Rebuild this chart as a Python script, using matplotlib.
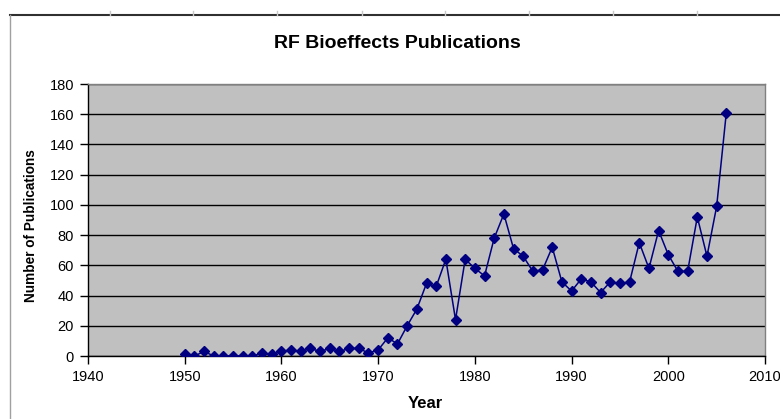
import matplotlib
matplotlib.use("Agg")
import matplotlib.pyplot as plt
from matplotlib.lines import Line2D

years = list(range(1950, 2007))
publications = [1, 0, 3, 0, 0, 0, 0, 0, 2, 1,
                3, 4, 3, 5, 3, 5, 3, 5, 5, 2,
                4, 12, 8, 20, 31, 48, 46, 64, 24, 64,
                58, 53, 78, 94, 71, 66, 56, 57, 72, 49,
                43, 51, 49, 42, 49, 48, 49, 75, 58, 83,
                67, 56, 56, 92, 66, 99, 161]
x_ticks = [1940, 1950, 1960, 1970, 1980, 1990, 2000, 2010]
y_ticks = [0, 20, 40, 60, 80, 100, 120, 140, 160, 180]

plt.rcParams['font.family'] = ['Liberation Sans', 'DejaVu Sans']

fig = plt.figure(figsize=(7.8, 4.19), dpi=100)
ax = fig.add_axes([88/780, 1-356/419, (765-88)/780, (356-84)/419])
ax.set_facecolor('#C0C0C0')

ax.plot(years, publications, color='#000080', linewidth=1.1, marker='D',
        markersize=5, markerfacecolor='#000080', markeredgecolor='#000080', zorder=3)

ax.set_xlim(1940, 2010)
ax.set_ylim(0, 180)
ax.set_xticks(x_ticks)
ax.set_yticks(y_ticks)
ax.yaxis.grid(True, color='black', linewidth=1.0)
ax.set_axisbelow(True)
ax.tick_params(axis='both', labelsize=10.5, direction='out', length=6, width=1, color='black', pad=4)

for s in ['top', 'right']:
    ax.spines[s].set_color('#808080')
    ax.spines[s].set_linewidth(1)
for s in ['left', 'bottom']:
    ax.spines[s].set_color('black')
    ax.spines[s].set_linewidth(1)

fig.text(397/780, 1-43/419, 'RF Bioeffects Publications', ha='center', va='center',
         fontsize=14, fontweight='bold')
fig.text(425/780, 1-403/419, 'Year', ha='center', va='center',
         fontsize=12, fontweight='bold')
fig.text(31/780, 1-226/419, 'Number of Publications', ha='center', va='center',
         rotation=90, fontsize=9.8, fontweight='bold')

# frame lines from the surrounding sheet
fig.add_artist(Line2D([10/780, 1], [1-15/419, 1-15/419], transform=fig.transFigure,
                      color='#303030', linewidth=1.5))
fig.add_artist(Line2D([10/780, 10/780], [0, 1-15/419], transform=fig.transFigure,
                      color='#A0A0A0', linewidth=1))
for xp in [110, 193, 277, 362, 445, 529, 613, 697]:
    fig.add_artist(Line2D([xp/780, xp/780], [1-15/419, 1-11/419], transform=fig.transFigure,
                          color='#C8C8C8', linewidth=1))

fig.savefig('out.png', dpi=100)
